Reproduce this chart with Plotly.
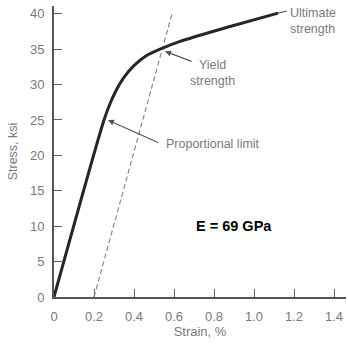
import plotly.graph_objects as go

# Stress-strain curve (strain in %, stress in ksi)
strain = [0.0, 0.25, 0.28, 0.313, 0.347, 0.397, 0.463, 0.547, 0.63, 0.88, 1.12]
stress = [0.0, 25.0, 27.3, 29.3, 30.9, 32.6, 34.1, 35.2, 36.1, 38.2, 40.1]

# 0.2 % offset line, parallel to the elastic slope
offset_strain = [0.2, 0.59]
offset_stress = [0.0, 40.0]

x_ticks = [0, 0.2, 0.4, 0.6, 0.8, 1.0, 1.2, 1.4]
x_labels = ["0", "0.2", "0.4", "0.6", "0.8", "1.0", "1.2", "1.4"]
y_ticks = [0, 5, 10, 15, 20, 25, 30, 35, 40]
y_labels = [str(v) for v in y_ticks]

FONT = "Liberation Sans, Arial, sans-serif"
GREY = "#7a7a7a"

fig = go.Figure()

fig.add_trace(go.Scatter(
    x=offset_strain, y=offset_stress, mode="lines",
    line=dict(color="#8a8a8a", width=1.2, dash="5px,3px"),
    hoverinfo="skip", showlegend=False,
))
fig.add_trace(go.Scatter(
    x=strain, y=stress, mode="lines",
    line=dict(color="#262626", width=3, shape="spline", smoothing=0.8),
    hoverinfo="skip", showlegend=False,
))

# leader from the curve end to the ultimate-strength label
fig.add_trace(go.Scatter(
    x=[strain[-1], 1.165], y=[stress[-1], 40.4], mode="lines",
    line=dict(color="#555555", width=1.2),
    hoverinfo="skip", showlegend=False,
))

def arrow(tip, tail):
    fig.add_annotation(
        x=tip[0], y=tip[1], ax=tail[0], ay=tail[1],
        xref="x", yref="y", axref="x", ayref="y",
        text="", showarrow=True, arrowhead=2, arrowsize=1.1,
        arrowwidth=1.1, arrowcolor="#555555",
    )

def label(x, y, text, anchor="left"):
    fig.add_annotation(
        x=x, y=y, xref="x", yref="y", text=text, showarrow=False,
        xanchor=anchor, yanchor="middle", align=anchor,
        font=dict(family=FONT, size=12.5, color=GREY),
    )

label(1.17, 39.0, "Ultimate<br>strength")
arrow((0.555, 34.7), (0.695, 33.2))
label(0.79, 31.6, "Yield<br>strength", anchor="center")
arrow((0.27, 25.0), (0.53, 21.7))
label(0.55, 21.6, "Proportional limit")

fig.add_annotation(
    x=1.1, y=10.0, xref="x", yref="y", text="<b>E = 69 GPa</b>",
    showarrow=False, xanchor="right", yanchor="middle",
    font=dict(family=FONT, size=14.5, color="#000000"),
)

axis_common = dict(
    showline=True, linecolor="#555555", linewidth=2,
    ticks="inside", ticklen=8, tickwidth=1.2, tickcolor="#666666",
    showgrid=False, zeroline=False,
    tickfont=dict(family=FONT, size=13, color=GREY),
)

fig.update_xaxes(
    range=[0, 1.46], tickvals=x_ticks, ticktext=x_labels,
    ticklabelstandoff=6,
    title=dict(text="Strain, %", font=dict(family=FONT, size=13, color=GREY), standoff=4),
    **axis_common,
)
fig.update_yaxes(
    range=[0, 41.1], tickvals=y_ticks, ticktext=y_labels,
    ticklabelstandoff=5,
    title=dict(text="Stress, ksi", font=dict(family=FONT, size=12.5, color=GREY), standoff=10),
    **axis_common,
)

fig.update_layout(
    width=348, height=344,
    margin=dict(l=54, r=2, t=6, b=47, autoexpand=False),
    paper_bgcolor="white", plot_bgcolor="white",
)

fig.write_html("out.html", config={"displayModeBar": False})
